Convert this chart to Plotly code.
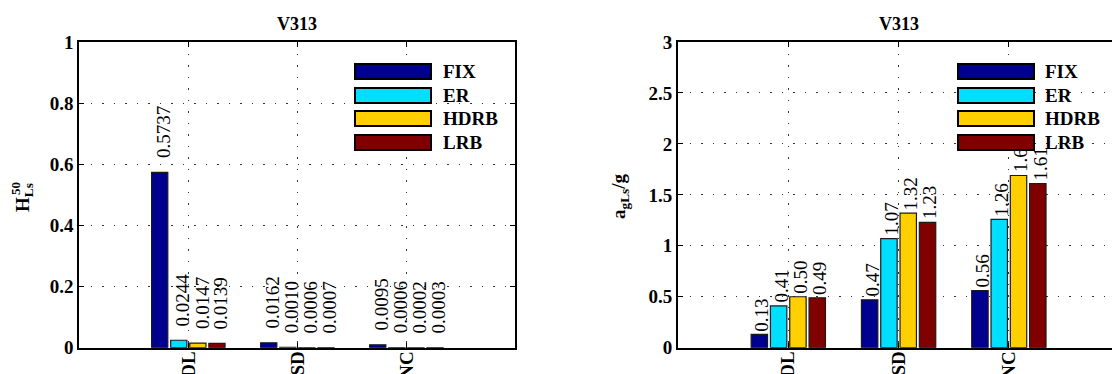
import plotly.graph_objects as go

# ---- data ----
categories = ["DL", "SD", "NC"]
series_names = ["FIX", "ER", "HDRB", "LRB"]
h50_fix = [0.5737, 0.0162, 0.0095]
h50_er = [0.0244, 0.0010, 0.0006]
h50_hdrb = [0.0147, 0.0006, 0.0002]
h50_lrb = [0.0139, 0.0007, 0.0003]
ag_fix = [0.13, 0.47, 0.56]
ag_er = [0.41, 1.07, 1.26]
ag_hdrb = [0.50, 1.32, 1.69]
ag_lrb = [0.49, 1.23, 1.61]
left_ticks = [0, 0.2, 0.4, 0.6, 0.8, 1]
right_ticks = [0, 0.5, 1, 1.5, 2, 2.5, 3]
title_text = "V313"

colors = ["#00008F", "#00DFFF", "#FFCF00", "#800000"]
W, H = 1112, 374
FONT = "Liberation Serif"
BARGAP = 0.3
BARGROUPGAP = 0.15

def px(x):
    return x / W

def py(y):
    return 1 - y / H

left_series = [h50_fix, h50_er, h50_hdrb, h50_lrb]
right_series = [ag_fix, ag_er, ag_hdrb, ag_lrb]
xpos = [i + 1 for i in range(len(categories))]

fig = go.Figure()
for name, col, vals in zip(series_names, colors, left_series):
    fig.add_trace(go.Bar(x=xpos, y=vals, name=name, marker_color=col,
                         marker_line=dict(color="#1a1a1a", width=1.2),
                         xaxis="x", yaxis="y", showlegend=False))
for name, col, vals in zip(series_names, colors, right_series):
    fig.add_trace(go.Bar(x=xpos, y=vals, name=name, marker_color=col,
                         marker_line=dict(color="#1a1a1a", width=1.2),
                         xaxis="x2", yaxis="y2", showlegend=False))

annotations = []
n = len(series_names)
gw = 1 - BARGAP
slot = gw / n


def value_labels(series, xref, yref, fmt, yshift, xshift):
    for i, vals in enumerate(series):
        for c, v in zip(xpos, vals):
            xc = c - gw / 2 + slot * (i + 0.5)
            annotations.append(dict(x=xc, y=v, xref=xref, yref=yref,
                                    text=fmt.format(v), showarrow=False,
                                    textangle=-90, xanchor="center", yanchor="bottom",
                                    yshift=yshift, xshift=xshift,
                                    font=dict(family=FONT, size=19, color="black")))


value_labels(left_series, "x", "y", "{:.4f}", 12, 4)
value_labels(right_series, "x2", "y2", "{:.2f}", 1, 2.5)

# titles
annotations.append(dict(x=px(297.4), y=py(24), xref="paper", yref="paper", text="<b>%s</b>" % title_text,
                        showarrow=False, xanchor="center", yanchor="middle",
                        font=dict(family=FONT, size=18, color="black")))
annotations.append(dict(x=px(898.5), y=py(24), xref="paper", yref="paper", text="<b>%s</b>" % title_text,
                        showarrow=False, xanchor="center", yanchor="middle",
                        font=dict(family=FONT, size=18, color="black")))

# y axis titles
annotations.append(dict(x=px(24), y=py(198), xref="paper", yref="paper", text="<b>H<sub>Ls</sub></b>",
                        showarrow=False, textangle=-90, xanchor="center", yanchor="middle",
                        font=dict(family=FONT, size=19, color="black")))
annotations.append(dict(x=px(15), y=py(189), xref="paper", yref="paper", text="<b>50</b>",
                        showarrow=False, textangle=-90, xanchor="center", yanchor="middle",
                        font=dict(family=FONT, size=13, color="black")))
annotations.append(dict(x=px(620), y=py(197), xref="paper", yref="paper", text="<b>a<sub>gLs</sub>/g</b>",
                        showarrow=False, textangle=-90, xanchor="center", yanchor="middle",
                        font=dict(family=FONT, size=19, color="black")))

# legends (patches drawn after value labels so they cover them)
leg_y = [71.3, 95.0, 118.6, 142.0]
for patch_cx, text_x in [(393, 441), (995.5, 1043)]:
    for name, col, yy in zip(series_names, colors, leg_y):
        annotations.append(dict(x=px(patch_cx), y=py(yy), xref="paper", yref="paper", text=" ",
                                showarrow=False, xanchor="center", yanchor="middle",
                                width=74, height=13, bgcolor=col, bordercolor="black",
                                borderwidth=2, borderpad=0,
                                font=dict(family=FONT, size=10, color=col)))
        annotations.append(dict(x=px(text_x), y=py(yy), xref="paper", yref="paper",
                                text="<b>%s</b>" % name, showarrow=False,
                                xanchor="left", yanchor="middle",
                                font=dict(family=FONT, size=19, color="black")))

tickfont = dict(family=FONT, size=19, color="black")
grid = dict(showgrid=True, gridcolor="#333333", gridwidth=1, griddash="1.5px,10px")
ydom = [py(347.7), py(42)]

fig.update_layout(
    width=W, height=H, margin=dict(l=0, r=0, t=0, b=0),
    paper_bgcolor="white", plot_bgcolor="white",
    barmode="group", bargap=BARGAP, bargroupgap=BARGROUPGAP,
    showlegend=False,
    font=dict(family=FONT, color="black"),
    annotations=annotations,
    xaxis=dict(domain=[px(79.3), px(515.4)], range=[0, 4], tickvals=xpos,
               ticktext=["<b>%s</b>" % c for c in categories], tickangle=-90,
               tickfont=tickfont, showline=True, linecolor="black", linewidth=2,
               mirror="ticks", ticks="inside", ticklen=5, tickcolor="black",
               ticklabelstandoff=-6,
               zeroline=False, anchor="y", automargin=False, **grid),
    yaxis=dict(domain=ydom, range=[0, 1], tickvals=left_ticks,
               ticktext=["<b>%g</b>" % t for t in left_ticks], tickfont=tickfont,
               showline=True, linecolor="black", linewidth=2, mirror="ticks",
               ticks="inside", ticklen=5, tickcolor="black", zeroline=False,
               anchor="x", automargin=False, **grid),
    xaxis2=dict(domain=[px(678), 1.0], range=[0, 3.935], tickvals=xpos,
                ticktext=["<b>%s</b>" % c for c in categories], tickangle=-90,
                tickfont=tickfont, showline=True, linecolor="black", linewidth=2,
                mirror="ticks", ticks="inside", ticklen=5, tickcolor="black",
                ticklabelstandoff=-6,
                zeroline=False, anchor="y2", automargin=False, **grid),
    yaxis2=dict(domain=ydom, range=[0, 3], tickvals=right_ticks,
                ticktext=["<b>%g</b>" % t for t in right_ticks], tickfont=tickfont,
                showline=True, linecolor="black", linewidth=2, mirror=False,
                ticks="inside", ticklen=5, tickcolor="black", zeroline=False,
                anchor="x2", automargin=False, **grid),
)

fig.write_html("out.html", config={"displayModeBar": False},
               post_script="document.body.style.margin='0';")
